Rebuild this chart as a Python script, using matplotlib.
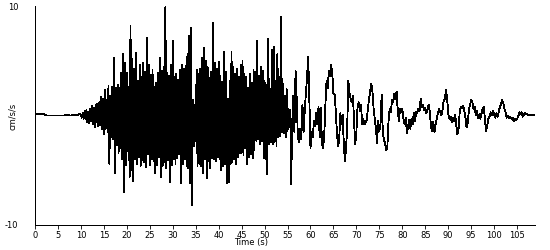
import numpy as np
from matplotlib import pyplot as plt

# quiet part before the first arrival, 0.5 s steps from 0 s
pre = [0.1, 0.1, 0.1, 0.1, 0.1, 0.0, 0.0, 0.0, 0.0, 0.0,
       0.0, 0.0, 0.0, 0.0, 0.1, 0.0, 0.0, 0.1, 0.0, 0.1]
pre_dt = 0.5

# strong motion, 0.2 s steps from 10 s (peak / trough pairs)
strong = [
  0.1, -0.2, 0.2, -0.3, 0.4, -0.3, 0.5, -0.6, 0.3, -0.7,
  0.6, -0.5, 0.9, -0.8, 0.7, -1.1, 1.0, -0.6, 1.1, -1.0,
  1.2, -0.9, 1.7, -1.2, 1.5, -1.7, 2.3, -1.2, 1.4, -1.5,
  2.7, -4.4, 1.8, -2.0, 2.6, -2.2, 5.3, -5.3, 2.5, -2.7,
  2.8, -3.4, 2.5, -3.0, 3.9, -4.0, 5.6, -7.0, 4.8, -4.5,
  3.9, -3.3, 2.6, -5.6, 8.2, -5.0, 5.2, -6.0, 4.3, -4.0,
  5.7, -4.4, 3.2, -3.8, 4.6, -4.6, 3.5, -4.1, 4.8, -4.3,
  4.0, -4.7, 7.1, -3.5, 4.6, -4.5, 3.7, -4.0, 4.2, -4.2,
  2.6, -5.3, 3.0, -4.5, 3.9, -3.8, 5.3, -5.6, 4.1, -4.6,
  4.4, -4.3, 9.9, -4.8, 3.9, -4.1, 3.6, -6.1, 4.6, -4.5,
  6.8, -4.0, 3.5, -4.4, 3.8, -3.9, 3.3, -3.5, 4.2, -6.2,
  4.6, -4.4, 4.3, -4.0, 4.5, -4.6, 5.6, -4.8, 7.3, -6.2,
  8.0, -8.2, 1.4, -2.8, 1.0, -2.3, 4.2, -4.6, 3.8, -4.4,
  4.3, -4.6, 5.3, -5.3, 6.2, -4.0, 5.0, -5.7, 4.4, -4.2,
  3.4, -4.8, 4.0, -3.9, 8.5, -4.0, 4.8, -4.2, 4.3, -3.8,
  4.9, -4.0, 3.6, -5.0, 3.1, -4.6, 5.8, -4.4, 4.0, -6.2,
  1.5, -6.1, 3.2, -4.4, 5.8, -4.3, 4.4, -4.0, 3.8, -4.4,
  4.3, -3.8, 3.5, -3.4, 4.6, -3.4, 5.0, -3.6, 3.8, -3.0,
  3.5, -4.4, 2.5, -3.8, 3.8, -3.5, 3.0, -3.9, 4.2, -3.2,
  4.0, -2.3, 6.8, -2.2, 3.6, -2.6, 4.4, -2.3, 4.1, -3.9,
  3.2, -4.0, 2.8, -5.4, 7.0, -2.6, 2.4, -2.4, 6.0, -2.6,
  6.3, -2.4, 3.2, -2.8, 5.6, -2.0, 3.5, -1.9, 9.0, -1.5,
  2.9, -1.6, 1.8, -2.0, 2.4, -1.4, 0.6, -1.1, 0.5, -6.3]
strong_t0 = 10.0
strong_dt = 0.2

# coda, 0.25 s steps from 56 s
coda = [
  -1.0, 1.8, -1.5, 4.1, 1.5, -2.0, -2.4, -1.2,
  -2.2, 1.0, -1.5, 0.5, 2.0, 3.5, 5.4, 1.5,
  -3.0, -1.5, -2.0, -0.5, -1.0, 0.2, -0.8, 0.8,
  -2.0, 0.7, -2.5, -3.0, -1.8, 1.0, 3.2, 2.5,
  4.1, 3.6, 4.6, 3.8, 2.0, 1.9, 0.5, -1.5,
  -2.8, -2.2, 0.2, -0.8, 0.1, -2.5, -4.2, -3.0,
  -1.0, 3.2, 2.0, 1.5, 1.2, 1.8, -0.6, -2.6,
  -1.5, 0.8, 1.2, 0.4, 1.0, -0.8, -0.3, -0.8,
  -0.6, -0.4, 0.6, 1.5, 2.2, 2.9, 2.2, 0.6,
  -0.3, -1.2, -2.5, -0.5, -1.4, -0.8, 1.9, -1.5,
  -2.2, -2.6, -3.2, -2.8, -0.5, 0.6, 0.3, 1.4,
  1.2, 2.0, 1.5, 2.2, 0.5, -0.5, 0.6, 0.3,
  0.6, -0.3, -0.8, -0.2, -1.6, -1.0, -0.4, -1.2,
  -0.3, -0.8, 0.2, -0.5, 0.3, 0.2, 0.6, 0.4,
  1.5, 0.8, 1.0, 0.5, 0.7, 0.2, 0.5, 1.0,
  0.3, -1.0, -1.4, -0.6, -1.5, -0.8, -0.3, 0.2,
  0.6, 0.3, 0.0, 0.5, 1.3, 1.5, 2.3, 1.6,
  0.2, -0.3, -0.1, -0.6, -0.2, -0.5, 0.1, -0.9,
  -1.7, -1.2, 0.3, 0.8, 0.7, 0.9, 0.4, -0.2,
  -1.1, -0.7, 0.5, 1.0, 1.4, 1.2, 0.6, 0.8,
  0.0, 0.4, -0.2, 0.1, -0.3, 0.2, 0.6, 0.8,
  -0.4, -1.4, -0.9, -0.3, -0.1, 0.3, 0.0, 0.4,
  0.1, -0.2, 0.2, -0.1, 0.3, 0.8, 1.0, 1.4,
  1.1, 0.6, 0.3, -0.2, 0.0, -0.2, -0.1, -0.3,
  -0.2, -0.5, -0.3, -0.4, -0.3, -0.1, 0.3, 0.1,
  0.3, -0.1, 0.1, 0.2, 0.1, 0.1, 0.05, 0.05,
  0.05, 0.05, 0.05, 0.05]
coda_t0 = 56.0
coda_dt = 0.25

xticks = list(range(0, 110, 5))

t = np.concatenate([np.arange(len(pre)) * pre_dt,
                    strong_t0 + np.arange(len(strong)) * strong_dt,
                    coda_t0 + np.arange(len(coda)) * coda_dt])
acc = np.concatenate([pre, strong, coda])

plt.rcParams['font.family'] = ['DejaVu Sans']
fig = plt.figure(figsize=(5.5, 2.5), dpi=100)
ax = fig.add_axes([35/550, 1-225/250, 500/550, 219/250])

ax.plot(t, acc, color='black', lw=0.6, antialiased=False)
ax.set_xlim(0, 108.9)
ax.set_ylim(-10, 10)

for s in ['top', 'right']:
  ax.spines[s].set_visible(False)
for s in ['left', 'bottom']:
  ax.spines[s].set_linewidth(0.6)
  ax.spines[s].set_antialiased(False)

ax.set_xticks(xticks)
ax.set_xticklabels([str(v) for v in xticks])
ax.tick_params(axis='x', direction='out', length=3, width=0.6, pad=1, labelsize=6)
ax.set_yticks([-10, 10])
ax.set_yticklabels(['-10', '10'])
ax.tick_params(axis='y', length=0, pad=12, labelsize=6)

fig.text(251/550, 1-243/250, 'Time (s)', ha='center', va='center', fontsize=6)
fig.text(12/550, 1-116/250, 'cm/s/s', ha='center', va='center', rotation=90, fontsize=6)

plt.savefig('out.png', dpi=100)
